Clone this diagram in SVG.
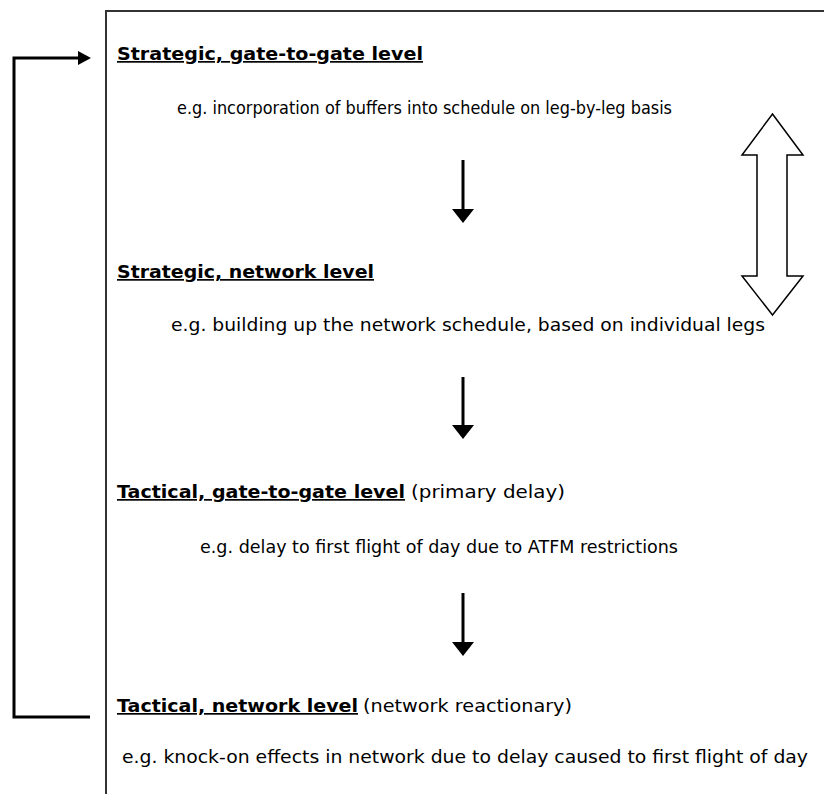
<svg xmlns="http://www.w3.org/2000/svg" width="824" height="794" viewBox="0 0 824 794">
<style>
text{font-family:"DejaVu Sans",Verdana,sans-serif;font-size:17px;fill:#000}
.t{font-weight:bold;text-decoration:underline}
.frame{fill:none;stroke:#333;stroke-width:2}
.conn{fill:none;stroke:#000;stroke-width:3}
.head{fill:#000;stroke:none}
.hollow{fill:#fff;stroke:#000;stroke-width:1.5}
</style>
<rect width="824" height="794" fill="#fff"/>
<g id="frame"><path class="frame" d="M106,794 V11 H824"/></g>
<g id="node-strategic-gate">
<text class="t" x="117" y="60" textLength="306" lengthAdjust="spacingAndGlyphs">Strategic, gate-to-gate level</text>
<text x="177" y="114" textLength="495" lengthAdjust="spacingAndGlyphs">e.g. incorporation of buffers into schedule on leg-by-leg basis</text>
</g>
<g id="node-strategic-network">
<text class="t" x="117" y="278" textLength="257" lengthAdjust="spacingAndGlyphs">Strategic, network level</text>
<text x="171" y="331" textLength="594" lengthAdjust="spacingAndGlyphs">e.g. building up the network schedule, based on individual legs</text>
</g>
<g id="node-tactical-gate">
<text class="t" x="117" y="498" textLength="288" lengthAdjust="spacingAndGlyphs">Tactical, gate-to-gate level</text>
<text x="411" y="498" textLength="154" lengthAdjust="spacingAndGlyphs">(primary delay)</text>
<text x="200" y="553" textLength="478" lengthAdjust="spacingAndGlyphs">e.g. delay to first flight of day due to ATFM restrictions</text>
</g>
<g id="node-tactical-network">
<text class="t" x="117" y="712" textLength="241" lengthAdjust="spacingAndGlyphs">Tactical, network level</text>
<text x="363" y="712" textLength="209" lengthAdjust="spacingAndGlyphs">(network reactionary)</text>
<text x="122" y="763" textLength="686" lengthAdjust="spacingAndGlyphs">e.g. knock-on effects in network due to delay caused to first flight of day</text>
</g>
<g id="connectors">
<path class="conn" d="M463,160 V210"/>
<path class="head" d="M452,209 H474 L463,223 Z"/>
<path class="conn" d="M463,377 V426"/>
<path class="head" d="M452,425 H474 L463,439 Z"/>
<path class="conn" d="M463,593 V643"/>
<path class="head" d="M452,642 H474 L463,656 Z"/>
<path class="conn" d="M90,717 H14 V58 H80"/>
<path class="head" d="M78,51 L91,58 L78,65 Z"/>
<path class="hollow" d="M772.5,114 L803,155 H787 V276 H803 L772.5,315 L742,276 H757 V155 H742 Z"/>
</g>
</svg>
